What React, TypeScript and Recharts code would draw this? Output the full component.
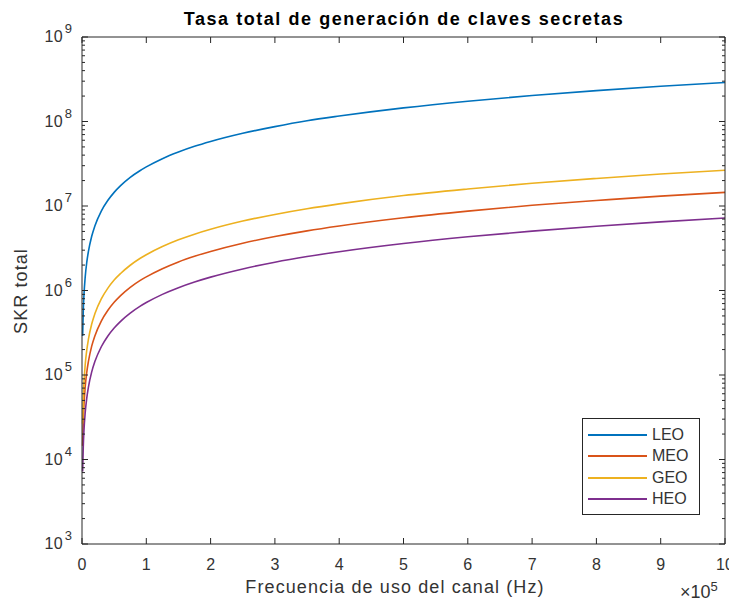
import { Legend, Line, LineChart, XAxis, YAxis } from "recharts";

// frequency in units of 10^5 Hz
const FREQ = [0.01, 0.02, 0.03, 0.05, 0.075, 0.1, 0.15, 0.2, 0.3, 0.4, 0.5, 0.6, 0.75, 0.9, 1, 1.25, 1.5, 1.75, 2, 2.5, 3, 3.5, 4, 5, 6, 7, 8, 9, 10];
const LEO = [2.9e5, 5.8e5, 8.7e5, 1.45e6, 2.18e6, 2.9e6, 4.35e6, 5.8e6, 8.7e6, 1.16e7, 1.45e7, 1.74e7, 2.18e7, 2.61e7, 2.9e7, 3.63e7, 4.35e7, 5.08e7, 5.8e7, 7.25e7, 8.7e7, 1.02e8, 1.16e8, 1.45e8, 1.74e8, 2.03e8, 2.32e8, 2.61e8, 2.9e8];
const MEO = [1.45e4, 2.9e4, 4.35e4, 7.25e4, 1.09e5, 1.45e5, 2.18e5, 2.9e5, 4.35e5, 5.8e5, 7.25e5, 8.7e5, 1.09e6, 1.31e6, 1.45e6, 1.81e6, 2.18e6, 2.54e6, 2.9e6, 3.63e6, 4.35e6, 5.08e6, 5.8e6, 7.25e6, 8.7e6, 1.02e7, 1.16e7, 1.31e7, 1.45e7];
const GEO = [2.65e4, 5.3e4, 7.95e4, 1.33e5, 1.99e5, 2.65e5, 3.98e5, 5.3e5, 7.95e5, 1.06e6, 1.33e6, 1.59e6, 1.99e6, 2.39e6, 2.65e6, 3.31e6, 3.98e6, 4.64e6, 5.3e6, 6.63e6, 7.95e6, 9.28e6, 1.06e7, 1.33e7, 1.59e7, 1.86e7, 2.12e7, 2.39e7, 2.65e7];
const HEO = [7.2e3, 1.44e4, 2.16e4, 3.6e4, 5.4e4, 7.2e4, 1.08e5, 1.44e5, 2.16e5, 2.88e5, 3.6e5, 4.32e5, 5.4e5, 6.48e5, 7.2e5, 9e5, 1.08e6, 1.26e6, 1.44e6, 1.8e6, 2.16e6, 2.52e6, 2.88e6, 3.6e6, 4.32e6, 5.04e6, 5.76e6, 6.48e6, 7.2e6];

const X_TICKS = [0, 1, 2, 3, 4, 5, 6, 7, 8, 9, 10];
const Y_MAJOR = [1e3, 1e4, 1e5, 1e6, 1e7, 1e8, 1e9];
const Y_TICKS = Y_MAJOR.flatMap((m, i) =>
  i === Y_MAJOR.length - 1 ? [m] : [1, 2, 3, 4, 5, 6, 7, 8, 9].map((k) => k * m)
);

const SERIES = [
  { key: "LEO", color: "#0072BD" },
  { key: "MEO", color: "#D95319" },
  { key: "GEO", color: "#EDB120" },
  { key: "HEO", color: "#7E2F8E" },
];

const data = FREQ.map((f, i) => ({ f, LEO: LEO[i], MEO: MEO[i], GEO: GEO[i], HEO: HEO[i] }));

const W = 729;
const H = 588;
const PLOT = { left: 74, right: 717, top: 29, bottom: 536 };
const AXIS = "#262626";
const TEXT = "#333333";
const FONT = "'Liberation Sans', Arial, Helvetica, sans-serif";

const isMajor = (v: number) => Math.abs(Math.log10(v) - Math.round(Math.log10(v))) < 1e-9;

function XTickBottom({ x, payload }: any) {
  return (
    <g>
      <line x1={x} x2={x} y1={PLOT.bottom} y2={PLOT.bottom - 6} stroke={AXIS} />
      <text x={x} y={PLOT.bottom + 26} textAnchor="middle" fontSize={16} fill={TEXT} fontFamily={FONT}>
        {payload.value}
      </text>
    </g>
  );
}

function XTickTop({ x }: any) {
  return <line x1={x} x2={x} y1={PLOT.top} y2={PLOT.top + 6} stroke={AXIS} />;
}

function YTickLeft({ y, payload }: any) {
  const major = isMajor(payload.value);
  return (
    <g>
      <line x1={PLOT.left} x2={PLOT.left + (major ? 6 : 3)} y1={y} y2={y} stroke={AXIS} />
      {major && (
        <text x={PLOT.left - 10} y={y + 5} textAnchor="end" fontSize={16} fill={TEXT} fontFamily={FONT}>
          <tspan letterSpacing={0.5}>10</tspan>
          <tspan dx={1.5} dy={-9} fontSize={13}>
            {Math.round(Math.log10(payload.value))}
          </tspan>
        </text>
      )}
    </g>
  );
}

function YTickRight({ y, payload }: any) {
  const major = isMajor(payload.value);
  return <line x1={PLOT.right} x2={PLOT.right - (major ? 6 : 3)} y1={y} y2={y} stroke={AXIS} />;
}

function LegendBox({ payload }: any) {
  const items = SERIES.map((s) => (payload ?? []).find((p: any) => p.value === s.key)).filter(Boolean);
  return (
    <div
      style={{
        width: 116,
        border: `1px solid ${AXIS}`,
        background: "#fff",
        padding: "5px 0 4px 0",
        fontFamily: FONT,
        fontSize: 16,
        color: TEXT,
      }}
    >
      {items.map((p: any) => (
        <div key={p.value} style={{ display: "flex", alignItems: "center", height: 21.5 }}>
          <div style={{ width: 59, height: 0, borderTop: `2px solid ${p.color}`, marginLeft: 5, marginRight: 5 }} />
          <span>{p.value}</span>
        </div>
      ))}
    </div>
  );
}

export default function App() {
  return (
    <div style={{ position: "relative", width: W, height: 596, fontFamily: FONT }}>
      <div
        style={{
          position: "absolute",
          left: 0,
          width: 792,
          top: 1,
          textAlign: "center",
          fontWeight: "bold",
          fontSize: 18,
          letterSpacing: 1.55,
          color: "#000",
        }}
      >
        Tasa total de generación de claves secretas
      </div>
      <LineChart width={W} height={H} data={data} margin={{ top: 0, right: 8, bottom: 0, left: 0 }}>
        <XAxis
          dataKey="f"
          type="number"
          domain={[0, 10]}
          ticks={X_TICKS}
          interval={0}
          height={52}
          stroke={AXIS}
          tickLine={false}
          tick={<XTickBottom />}
        />
        <XAxis
          xAxisId="top"
          dataKey="f"
          type="number"
          orientation="top"
          domain={[0, 10]}
          ticks={X_TICKS}
          interval={0}
          height={29}
          stroke={AXIS}
          tickLine={false}
          tick={<XTickTop />}
        />
        <YAxis
          scale="log"
          domain={[1e3, 1e9]}
          allowDataOverflow
          ticks={Y_TICKS}
          interval={0}
          width={74}
          stroke={AXIS}
          tickLine={false}
          tick={<YTickLeft />}
        />
        <YAxis
          yAxisId="right"
          orientation="right"
          scale="log"
          domain={[1e3, 1e9]}
          allowDataOverflow
          ticks={Y_TICKS}
          interval={0}
          width={4}
          stroke={AXIS}
          tickLine={false}
          tick={<YTickRight />}
        />
        {SERIES.map((s) => (
          <Line
            key={s.key}
            type="monotone"
            dataKey={s.key}
            stroke={s.color}
            strokeWidth={1.6}
            dot={false}
            isAnimationActive={false}
          />
        ))}
        <Legend
          layout="vertical"
          align="center"
          verticalAlign="middle"
          wrapperStyle={{ left: 574, top: 410, width: 118 }}
          content={<LegendBox />}
        />
      </LineChart>
      <div
        style={{
          position: "absolute",
          left: 187,
          width: 400,
          top: 569,
          textAlign: "center",
          fontSize: 18,
          letterSpacing: 1.1,
          color: TEXT,
        }}
      >
        Frecuencia de uso del canal (Hz)
      </div>
      <div style={{ position: "absolute", left: 672, top: 571, fontSize: 18, color: TEXT, whiteSpace: "nowrap" }}>
        ×10<sup style={{ fontSize: 13, verticalAlign: "7px" }}>5</sup>
      </div>
      <div
        style={{
          position: "absolute",
          left: 13,
          top: 283,
          transform: "translate(-50%, -50%) rotate(-90deg)",
          whiteSpace: "nowrap",
          fontSize: 18,
          letterSpacing: 1.1,
          color: TEXT,
        }}
      >
        SKR total
      </div>
    </div>
  );
}
